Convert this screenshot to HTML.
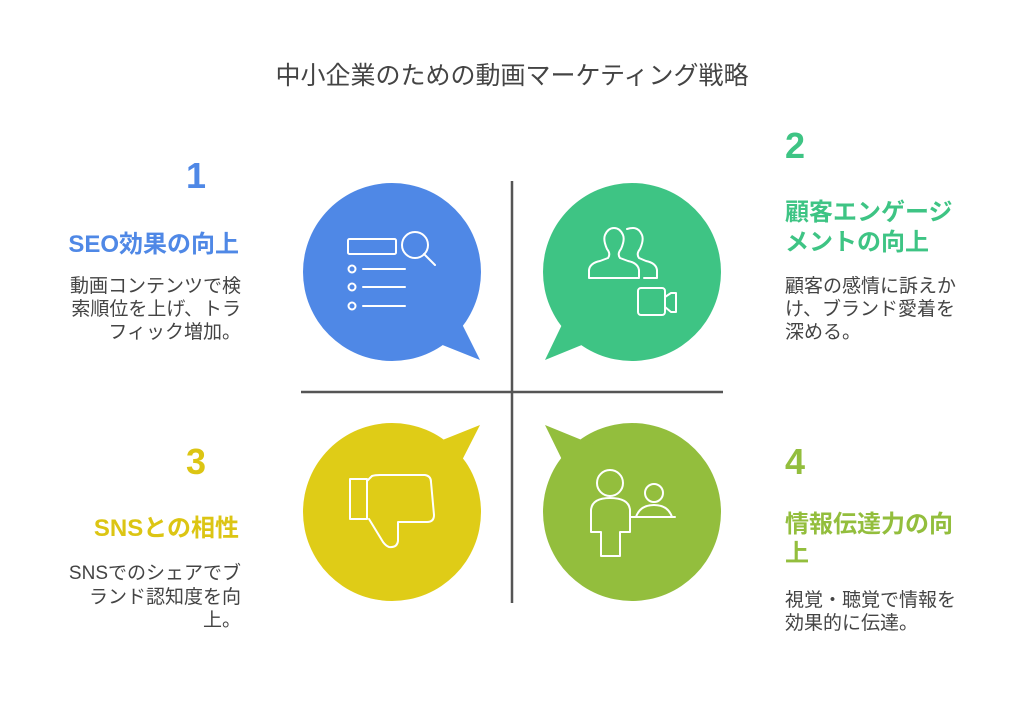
<!DOCTYPE html>
<html><head><meta charset="utf-8"><style>
html,body{margin:0;padding:0;background:#fff;}
svg{display:block;}
text{font-family:"Liberation Sans","Noto Sans CJK JP",sans-serif;}
</style></head><body>
<svg width="1024" height="709" viewBox="0 0 1024 709" xmlns="http://www.w3.org/2000/svg">
<text x="512" y="84" text-anchor="middle" font-size="25" fill="#444">中小企業のための動画マーケティング戦略</text>

<line x1="512" y1="181" x2="512" y2="603" stroke="#555" stroke-width="2.5"/>
<line x1="301" y1="392" x2="723" y2="392" stroke="#555" stroke-width="2.5"/>

<circle cx="392" cy="272" r="89" fill="#4F88E6"/>
<polygon points="455,310 480,360 430,340" fill="#4F88E6"/>
<circle cx="632" cy="272" r="89" fill="#3EC484"/>
<polygon points="569,310 545,360 594,340" fill="#3EC484"/>
<circle cx="392" cy="512" r="89" fill="#DFCC17"/>
<polygon points="455,474 480,425 430,445" fill="#DFCC17"/>
<circle cx="632" cy="512" r="89" fill="#93BE3D"/>
<polygon points="569,474 545,425 594,445" fill="#93BE3D"/>

<g fill="none" stroke="#fff" stroke-width="2" stroke-linecap="round" stroke-linejoin="round">
  <rect x="348" y="239" width="48" height="15" rx="1.5"/>
  <circle cx="415" cy="245" r="13"/>
  <line x1="424" y1="254" x2="435" y2="265"/>
  <circle cx="352" cy="269" r="3.5"/><line x1="363" y1="269" x2="405" y2="269"/>
  <circle cx="352" cy="287" r="3.5"/><line x1="363" y1="287" x2="405" y2="287"/>
  <circle cx="352" cy="306" r="3.5"/><line x1="363" y1="306" x2="405" y2="306"/>

  <path d="M589,278 L589,270 Q590,263 600,261 L608,258 Q611,254 607,249 Q603,240 605,235 Q608,228 614,228 Q620,228 623,235 Q625,240 621,249 Q617,254 620,258 L628,261 Q638,263 639,270 L639,278 Z"/>
  <path d="M627,229 Q630,228 633,228 Q639,228 642,235 Q644,240 640,249 Q636,254 639,258 L646,261 Q656,263 657,270 L657,278 L644,278"/>
  <rect x="638" y="288" width="27" height="27" rx="3"/>
  <path d="M665,297 L671,293 L676,293 L676,312 L671,312 L665,307"/>

  <path d="M350,479 L367,479 L367,519 L350,519 Z"/>
  <path d="M367,481 L372,476 Q375,475 380,475 L425,475 Q431,476 431,482 L434,515 Q434,522 427,522 L398,522 L398,541 Q397,548 389,547 Q386,546 383,542 L369,519"/>

  <circle cx="610" cy="483" r="13"/>
  <path d="M591,532 L591,510 Q592,498 610,498 Q629,498 630,510 L630,532 L620,532 L620,556 L601,556 L601,532 Z"/>
  <circle cx="654" cy="493" r="9"/>
  <path d="M636,517 Q640,505 654,505 Q668,505 672,517 Z"/>
  <line x1="630" y1="517" x2="675" y2="517"/>
</g>

<text x="196" y="188" text-anchor="middle" font-size="36" font-weight="bold" fill="#4F88E6">1</text>
<text x="239" y="252" text-anchor="end" font-size="24" font-weight="bold" fill="#4F88E6">SEO効果の向上</text>
<g font-size="19" fill="#444" text-anchor="end">
<text x="241" y="292">動画コンテンツで検</text>
<text x="241" y="315">索順位を上げ、トラ</text>
<text x="241" y="338">フィック増加。</text>
</g>

<text x="785" y="158" font-size="36" font-weight="bold" fill="#3EC484">2</text>
<text x="785" y="220" font-size="24" font-weight="bold" fill="#3EC484">顧客エンゲージ</text>
<text x="785" y="250" font-size="24" font-weight="bold" fill="#3EC484">メントの向上</text>
<g font-size="19" fill="#444">
<text x="785" y="292">顧客の感情に訴えか</text>
<text x="785" y="315">け、ブランド愛着を</text>
<text x="785" y="338">深める。</text>
</g>

<text x="196" y="474" text-anchor="middle" font-size="36" font-weight="bold" fill="#DCC513">3</text>
<text x="239" y="536" text-anchor="end" font-size="24" font-weight="bold" fill="#DCC513">SNSとの相性</text>
<g font-size="19" fill="#444" text-anchor="end">
<text x="241" y="579">SNSでのシェアでブ</text>
<text x="241" y="603">ランド認知度を向</text>
<text x="241" y="626">上。</text>
</g>

<text x="785" y="474" font-size="36" font-weight="bold" fill="#93BE3D">4</text>
<text x="785" y="532" font-size="24" font-weight="bold" fill="#93BE3D">情報伝達力の向</text>
<text x="785" y="561" font-size="24" font-weight="bold" fill="#93BE3D">上</text>
<g font-size="19" fill="#444">
<text x="785" y="606">視覚・聴覚で情報を</text>
<text x="785" y="629">効果的に伝達。</text>
</g>
</svg>
</body></html>
